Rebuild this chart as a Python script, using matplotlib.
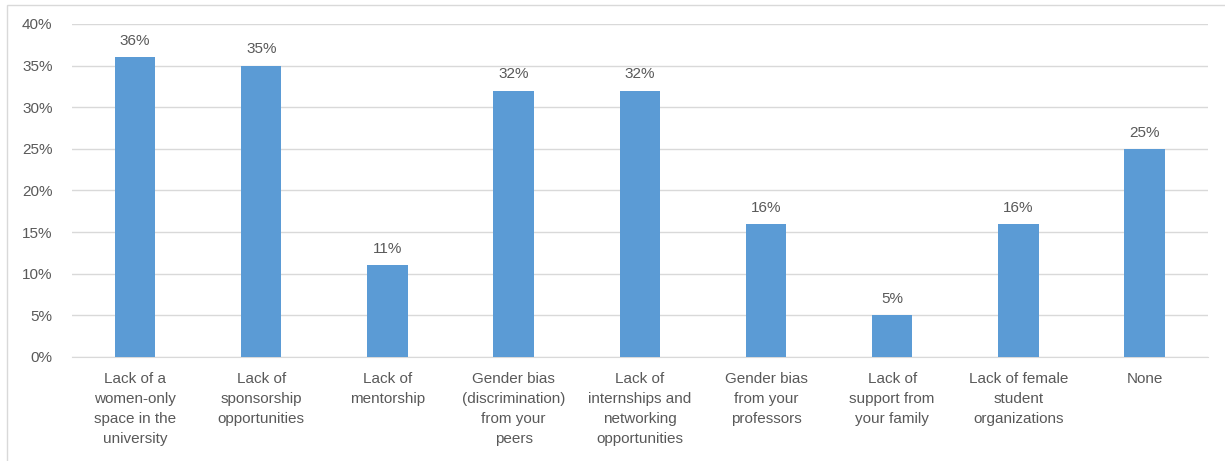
import numpy as np
import matplotlib.pyplot as plt
from matplotlib.patches import Rectangle

categories = ["Lack of a\nwomen-only\nspace in the\nuniversity",
              "Lack of\nsponsorship\nopportunities",
              "Lack of\nmentorship",
              "Gender bias\n(discrimination)\nfrom your\npeers",
              "Lack of\ninternships and\nnetworking\nopportunities",
              "Gender bias\nfrom your\nprofessors",
              "Lack of\nsupport from\nyour family",
              "Lack of female\nstudent\norganizations",
              "None"]
values = [36, 35, 11, 32, 32, 16, 5, 16, 25]
yticks = [0, 5, 10, 15, 20, 25, 30, 35, 40]

plt.rcParams['font.family'] = ['Liberation Sans', 'DejaVu Sans']
txt = '#595959'

fig = plt.figure(figsize=(12.25, 4.61), dpi=100)
ax = fig.add_axes([0.0588, 0.2256, 0.927, 0.7224])

x = np.arange(len(values))
ax.bar(x, values, width=0.32, color='#5B9BD5', zorder=3)
for xi, v in zip(x, values):
    ax.text(xi, v + 1.1, f"{v}%", ha='center', va='bottom', fontsize=11, color=txt)

ax.set_xlim(-0.5, len(values) - 0.5)
ax.set_ylim(0, 40)
ax.set_yticks(yticks)
ax.set_yticklabels([f"{t}%" for t in yticks], fontsize=11, color=txt)
ax.set_xticks(x)
ax.set_xticklabels(categories, fontsize=11, color=txt, linespacing=1.55)
ax.tick_params(length=0, pad=11)
ax.tick_params(axis='y', pad=14)
ax.grid(axis='y', color='#D9D9D9', linewidth=1, zorder=0)
for s in ['top', 'right', 'left']:
    ax.spines[s].set_visible(False)
ax.spines['bottom'].set_color('#D9D9D9')

fig.patches.append(Rectangle((7 / 1225, -0.1), 1.2, 1 - 5 / 461 + 0.1, transform=fig.transFigure,
                             fill=False, edgecolor='#D9D9D9', linewidth=1))

fig.savefig('out.png', dpi=100)
